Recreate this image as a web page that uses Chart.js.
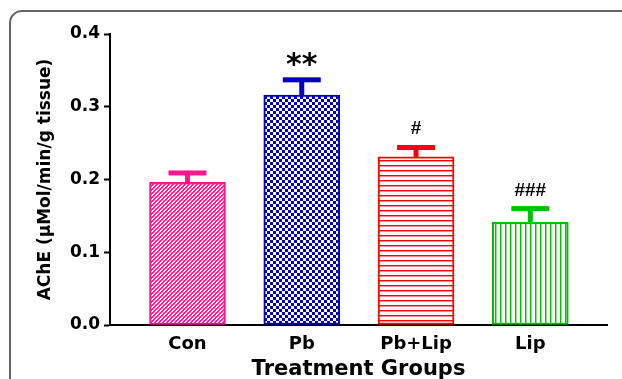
<!DOCTYPE html>
<html>
<head>
<meta charset="utf-8">
<script src="https://cdn.jsdelivr.net/npm/chart.js@4.4.1/dist/chart.umd.min.js"></script>
<style>
	html, body { margin: 0; padding: 0; background: #fff; }
	#wrap { width: 622px; height: 379px; position: relative; }
</style>
</head>
<body>
<div id="wrap"><canvas id="ache-chart"></canvas></div>
<script>
	// datos
	const groups = ['Con', 'Pb', 'Pb+Lip', 'Lip'];
	const acheMean = [0.196, 0.316, 0.231, 0.141];
	const acheSem = [0.013, 0.021, 0.013, 0.019];
	const signif = ['', '**', '#', '###'];
	const yTicks = [0.0, 0.1, 0.2, 0.3, 0.4];

	const colors = ['#ff1493', '#0000c0', '#ff0000', '#00c000'];
	const FONT = "'DejaVu Sans', sans-serif";

	// patrones de relleno para cada barra
	function makePattern(w, h, paint) {
		const c = document.createElement('canvas');
		c.width = w;
		c.height = h;
		const g = c.getContext('2d');
		g.fillStyle = '#fff';
		g.fillRect(0, 0, w, h);
		paint(g);
		return g.createPattern(c, 'repeat');
	}

	const patterns = [
		makePattern(4, 4, function(g) {
			g.fillStyle = colors[0];
			for (let y = 0; y < 4; y++) {
				for (let x = 0; x < 4; x++) {
					if ((x + y) % 4 < 2) g.fillRect(x, y, 1, 1);
				}
			}
			g.fillStyle = 'rgba(255,20,147,0.35)';
			g.fillRect(0, 0, 4, 1);
		}),
		makePattern(6, 6, function(g) {
			g.fillStyle = colors[1];
			g.fillRect(0, 0, 3, 3);
			g.fillRect(3, 3, 3, 3);
		}),
		makePattern(5, 5, function(g) {
			g.fillStyle = colors[2];
			g.fillRect(0, 0, 5, 1);
			g.fillStyle = 'rgba(255,0,0,0.45)';
			g.fillRect(0, 1, 5, 1);
		}),
		makePattern(5, 5, function(g) {
			g.fillStyle = colors[3];
			g.fillRect(0, 0, 1, 5);
			g.fillStyle = 'rgba(0,192,0,0.45)';
			g.fillRect(1, 0, 1, 5);
		})
	];

	// fondo blanco y marco redondeado
	const framePlugin = {
		id: 'frame',
		beforeDraw: function(chart) {
			const ctx = chart.ctx;
			ctx.save();
			ctx.fillStyle = '#fff';
			ctx.fillRect(0, 0, chart.width, chart.height);
			ctx.strokeStyle = '#666';
			ctx.lineWidth = 2;
			ctx.beginPath();
			ctx.roundRect(10, 11, chart.width + 40, chart.height + 40, 12);
			ctx.stroke();
			ctx.restore();
		}
	};

	// barras de error y marcas de significancia
	const errorPlugin = {
		id: 'errorBars',
		afterDatasetsDraw: function(chart) {
			const ctx = chart.ctx;
			const yScale = chart.scales.y;
			const meta = chart.getDatasetMeta(0);
			ctx.save();
			meta.data.forEach(function(bar, i) {
				const yBar = yScale.getPixelForValue(acheMean[i]);
				const yTop = yScale.getPixelForValue(acheMean[i] + acheSem[i]);
				ctx.fillStyle = colors[i];
				ctx.fillRect(bar.x - 2.5, yTop, 5, yBar - yTop);
				ctx.fillRect(bar.x - 19, yTop - 2.5, 38, 5);

				if (signif[i]) {
					ctx.fillStyle = '#000';
					ctx.textAlign = 'center';
					ctx.textBaseline = 'alphabetic';
					if (signif[i] === '**') {
						ctx.font = 'bold 30px ' + FONT;
						ctx.fillText(signif[i], bar.x, yTop - 6);
					} else {
						ctx.font = "bold 19px 'Liberation Sans', Arial, sans-serif";
						ctx.fillText(signif[i], bar.x, yTop - 13);
					}
				}
			});
			ctx.restore();
		}
	};

	const ctx = document.getElementById('ache-chart').getContext('2d');
	const acheChart = new Chart(ctx, {
		type: 'bar',
		data: {
			datasets: [{
				data: acheMean.map(function(v, i) { return { x: i, y: v }; }),
				backgroundColor: patterns,
				borderColor: colors,
				borderWidth: 2,
				borderSkipped: false,
				barThickness: 76
			}]
		},
		options: {
			responsive: true,
			maintainAspectRatio: false,
			animation: false,
			layout: {
				padding: { top: 34, right: 15, bottom: 0, left: 0 }
			},
			plugins: {
				legend: { display: false },
				tooltip: { enabled: false }
			},
			scales: {
				x: {
					type: 'linear',
					min: -0.678,
					max: 3.671,
					offset: false,
					afterFit: function(s) { s.height = 54; },
					afterBuildTicks: function(s) {
						s.ticks = groups.map(function(g, i) { return { value: i }; });
					},
					grid: { display: true, drawOnChartArea: false, drawTicks: false },
					border: { display: true, color: '#000', width: 2 },
					ticks: {
						color: '#000',
						padding: 9,
						maxRotation: 0,
						autoSkip: false,
						font: { family: FONT, size: 18, weight: 'bold' },
						callback: function(v) { return groups[v]; }
					},
					title: {
						display: true,
						text: 'Treatment Groups',
						color: '#000',
						padding: { top: 0, bottom: -3 },
						font: { family: FONT, size: 21, weight: 'bold' }
					}
				},
				y: {
					min: 0,
					max: 0.4,
					afterFit: function(s) { s.width = 110; },
					afterBuildTicks: function(s) {
						s.ticks = yTicks.map(function(v) { return { value: v }; });
					},
					grid: { display: true, drawOnChartArea: false, drawTicks: true, tickLength: 6, tickWidth: 2, tickColor: '#000' },
					border: { display: true, color: '#000', width: 2 },
					ticks: {
						color: '#000',
						padding: 4,
						font: { family: FONT, size: 17, weight: 'bold' },
						callback: function(v) { return v.toFixed(1); }
					},
					title: {
						display: true,
						text: 'AChE (μMol/min/g tissue)',
						color: '#000',
						padding: { top: 35, bottom: 0 },
						font: { family: FONT, size: 17, weight: 'bold' }
					}
				}
			}
		},
		plugins: [framePlugin, errorPlugin]
	});
</script>
</body>
</html>
